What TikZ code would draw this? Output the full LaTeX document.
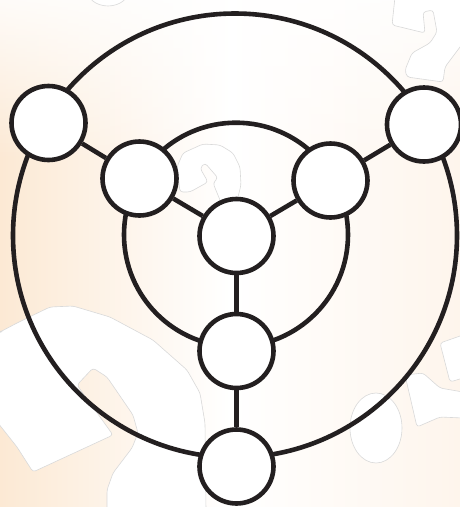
\documentclass[tikz,border=0pt]{standalone}
\usetikzlibrary{fadings}
\definecolor{ink}{HTML}{231F20}
\definecolor{peach}{HTML}{FCE9D4}
\definecolor{peachlt}{HTML}{FEF5EC}
\definecolor{ghost}{HTML}{D9D9D9}
\tikzfading[name=topfade, top color=transparent!15, bottom color=transparent!100]
\begin{document}
\begin{tikzpicture}[x=1pt,y=-1pt,
  vert/.style={circle,draw=ink,fill=white,line width=4.6pt,minimum size=74pt,inner sep=0pt},
  ring/.style={draw=ink,line width=4.6pt},
  edge/.style={draw=ink,line width=4.6pt},
  ghostshape/.style={fill=white,draw=ghost,line width=0.6pt,rounded corners=3pt}]
\useasboundingbox (0,0) rectangle (460,507);
\begin{scope}
\clip (0,0) rectangle (460,507);
\shade[left color=peach, right color=peachlt, middle color=white] (0,0) rectangle (460,507);
\fill[white, path fading=topfade] (0,0) rectangle (460,160);
% ghost question marks
\draw[ghostshape] (0,332) -- (17,323) -- (50,307) -- (73,306) -- (110,317) -- (153,340)
  -- (187,370) -- (200,393) -- (205,423) -- (206,510) -- (107,510) -- (107,490) -- (113,473)
  -- (132,448) -- (138,433) -- (133,415) -- (107,377) -- (93,368) -- (77,385) -- (113,435)
  -- (33,472) -- (17,447) -- (-2,423) -- (-2,332) -- cycle;
\draw[ghostshape] (395,-3) -- (392,25) -- (425,33) -- (423,12) -- (433,10) -- (437,32)
  -- (430,43) -- (412,53) -- (405,70) -- (407,77) -- (443,82) -- (445,67) -- (463,43)
  -- (463,-3) -- cycle;
\draw[ghostshape] (180,192) -- (177,167) -- (183,153) -- (203,144) -- (220,145) -- (233,153)
  -- (240,167) -- (241,185) -- (236,205) -- (222,205) -- (213,183) -- (218,178) -- (205,163)
  -- (200,168) -- (208,182) -- (190,192) -- cycle;
\draw[fill=white,draw=ghost,line width=0.6pt] (108,-12) ellipse[x radius=22,y radius=18];
\draw[fill=white,draw=ghost,line width=0.6pt] (376,428) ellipse[x radius=26,y radius=35];
\draw[ghostshape] (405,375) -- (423,373) -- (440,388) -- (463,392) -- (463,418) -- (440,417)
  -- (417,427) -- cycle;
\draw[ghostshape] (463,335) -- (440,343) -- (450,382) -- (463,378) -- cycle;
\end{scope}
% rings
\coordinate (oc) at (235,235.5);
\coordinate (ic) at (236,234.7);
\draw[ring] (oc) circle[radius=222];
\draw[ring] (ic) circle[radius=112];
% vertices
\node[vert] (c)  at (236.5,236) {};
\node[vert] (i1) at (139.5,178.5) {};
\node[vert] (i2) at (330.5,180.5) {};
\node[vert] (i3) at (236.5,351) {};
\node[vert] (o1) at (48.5,123) {};
\node[vert] (o2) at (424,124.5) {};
\node[vert] (o3) at (236.5,466.5) {};
% edges
\draw[edge] (c) -- (i1);
\draw[edge] (c) -- (i2);
\draw[edge] (c) -- (i3);
\draw[edge] (i1) -- (o1);
\draw[edge] (i2) -- (o2);
\draw[edge] (i3) -- (o3);
\end{tikzpicture}
\end{document}
